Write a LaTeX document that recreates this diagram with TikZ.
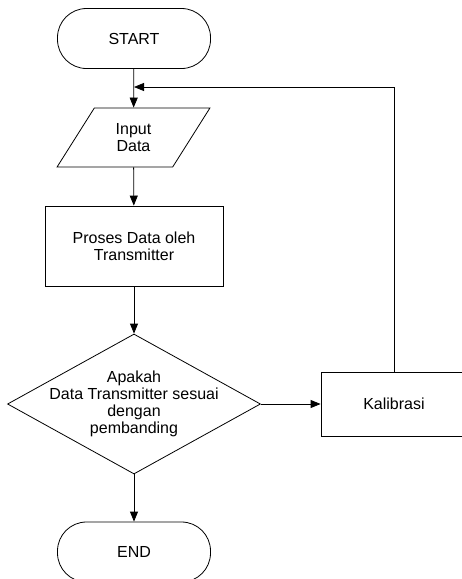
\documentclass[tikz,border=0pt]{standalone}
\usepackage{fontspec}
\setmainfont{Liberation Sans}
\usepackage{tikz}
\usetikzlibrary{shapes.geometric, shapes.misc, arrows.meta}

\begin{document}
\begin{tikzpicture}[x=1pt, y=-1pt, line width=0.8pt,
  every node/.style={font=\fontsize{16}{17}\selectfont, align=center},
  terminal/.style={draw, rounded corners=29pt, minimum width=153pt, minimum height=60pt, inner sep=0pt},
  masukan/.style={draw, trapezium, trapezium left angle=59, trapezium right angle=121, trapezium stretches=true, minimum width=153pt, minimum height=59pt, inner sep=0pt},
  proses/.style={draw, rectangle, inner sep=0pt},
  keputusan/.style={draw, diamond, minimum width=253pt, minimum height=140pt, inner sep=0pt},
  panah/.style={-{Triangle[length=10pt, width=8pt]}}]
  \useasboundingbox (0,0) rectangle (462,579);
  % bentuk
  \node[terminal] (mulai) at (134,38.5) {START};
  \node[masukan] (input) at (133.5,137.5) {Input\\Data};
  \node[proses, minimum width=178pt, minimum height=80pt] (olah) at (134,246) {Proses Data oleh\\Transmitter};
  \node[keputusan, label={[align=center]center:Apakah\\Data Transmitter sesuai\\dengan\\pembanding}] (cek) at (134,404) {};
  \node[proses, minimum width=146pt, minimum height=64pt] (kalibrasi) at (394,404) {Kalibrasi};
  \node[terminal] (selesai) at (134,552) {END};
  \coordinate (balik) at (134,87);
  % garis alir
  \draw[panah] (mulai) -- (input);
  \draw[panah] (input) -- (olah);
  \draw[panah] (olah) -- (cek);
  \draw[panah] (cek.east) -- (kalibrasi.west);
  \draw[panah] (cek.south) -- (selesai);
  \draw[panah] (kalibrasi.north) |- (balik);
\end{tikzpicture}
\end{document}
